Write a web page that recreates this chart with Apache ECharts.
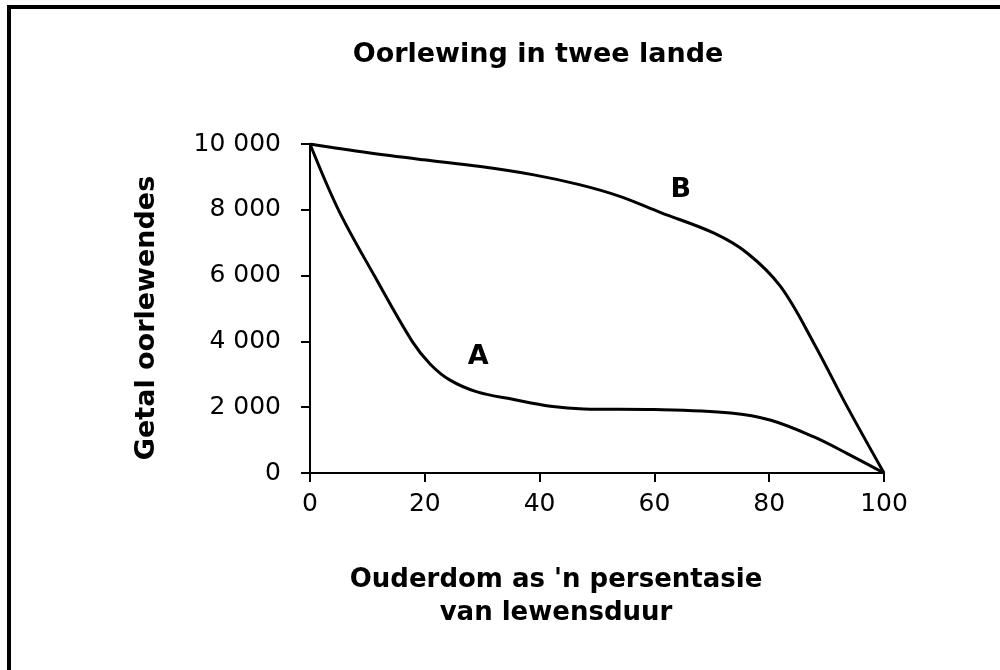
<!DOCTYPE html>
<html>
<head>
<meta charset="utf-8">
<script src="https://cdn.jsdelivr.net/npm/echarts@6/dist/echarts.min.js"></script>
<style>
html,body{margin:0;padding:0;background:#fff;}
#chart{width:1000px;height:670px;}
</style>
</head>
<body>
<div id="chart"></div>
<script>
const titleText = 'Oorlewing in twee lande';
const yName = 'Getal oorlewendes';
const xName = "Ouderdom as 'n persentasie\nvan lewensduur";

const xTicks = [0, 20, 40, 60, 80, 100];
const yTicks = [0, 2000, 4000, 6000, 8000, 10000];

const aX = [0, 4.95, 11.2, 17.8, 21, 24.4, 29.1, 35.5, 41.9, 47.7, 59.9, 73.3, 80.3, 87.8, 93.6, 100];
const aY = [10000, 8000, 6000, 4000, 3300, 2822, 2466, 2234, 2030, 1948, 1930, 1826, 1604, 1096, 590, 0];

const bX = [0, 9.9, 19.8, 29.7, 39.0, 47.1, 54.1, 61.1, 70.4, 76.2, 82.0, 87.8, 93.6, 100];
const bY = [10000, 9741, 9519, 9315, 9062, 8758, 8402, 7915, 7288, 6679, 5662, 3939, 2009, 0];

const labelNames = ['A', 'B'];
const labelX = [29.3, 64.6];
const labelY = [3520, 8600];

const FONT = 'DejaVu Sans';

function fmt(v) {
  return String(v).replace(/\B(?=(\d{3})+(?!\d))/g, ' ');
}

const chart = echarts.init(document.getElementById('chart'), null, {renderer: 'canvas'});
chart.setOption({
  backgroundColor: '#ffffff',
  animation: false,
  title: {
    text: titleText,
    left: 533, top: 36, textAlign: 'center',
    textStyle: {fontFamily: FONT, fontWeight: 'bold', fontSize: 27, color: '#000'}
  },
  grid: {left: 310, right: 116, top: 144, bottom: 197},
  xAxis: {
    type: 'value', min: 0, max: 100, interval: 20,
    axisLine: {show: true, lineStyle: {color: '#000', width: 2}},
    axisTick: {show: true, length: 9, lineStyle: {color: '#000', width: 2}},
    axisLabel: {fontFamily: FONT, fontSize: 25, color: '#000', margin: 19},
    splitLine: {show: false}
  },
  yAxis: {
    type: 'value', min: 0, max: 10000, interval: 2000,
    axisLine: {show: true, lineStyle: {color: '#000', width: 2}},
    axisTick: {show: true, length: 9, lineStyle: {color: '#000', width: 2}},
    axisLabel: {fontFamily: FONT, fontSize: 25, color: '#000', margin: 29, formatter: fmt},
    splitLine: {show: false}
  },
  graphic: [
    {type: 'rect', shape: {x: 7, y: 5, width: 1000, height: 4}, style: {fill: '#000'}},
    {type: 'rect', shape: {x: 7, y: 5, width: 4, height: 700}, style: {fill: '#000'}},
    {type: 'text', x: 147, y: 318, rotation: Math.PI / 2,
      style: {text: yName, fontFamily: FONT, fontWeight: 'bold', fontSize: 27, fill: '#000', align: 'center', verticalAlign: 'middle'}},
    {type: 'text', x: 556, y: 597,
      style: {text: xName, fontFamily: FONT, fontWeight: 'bold', fontSize: 26, fill: '#000', align: 'center', verticalAlign: 'middle', lineHeight: 33}}
  ],
  series: [
    {
      name: 'A', type: 'line', smooth: 0.35, symbol: 'none',
      lineStyle: {color: '#000', width: 3},
      data: aX.map((x, i) => [x, aY[i]])
    },
    {
      name: 'B', type: 'line', smooth: 0.35, symbol: 'none',
      lineStyle: {color: '#000', width: 3},
      data: bX.map((x, i) => [x, bY[i]])
    },
    {
      name: 'labels', type: 'scatter', symbolSize: 0,
      itemStyle: {opacity: 1},
      label: {show: true, position: 'inside', formatter: p => p.data[2],
        fontFamily: FONT, fontWeight: 'bold', fontSize: 27, color: '#000', opacity: 1},
      data: labelNames.map((n, i) => [labelX[i], labelY[i], n])
    }
  ]
});
</script>
</body>
</html>
